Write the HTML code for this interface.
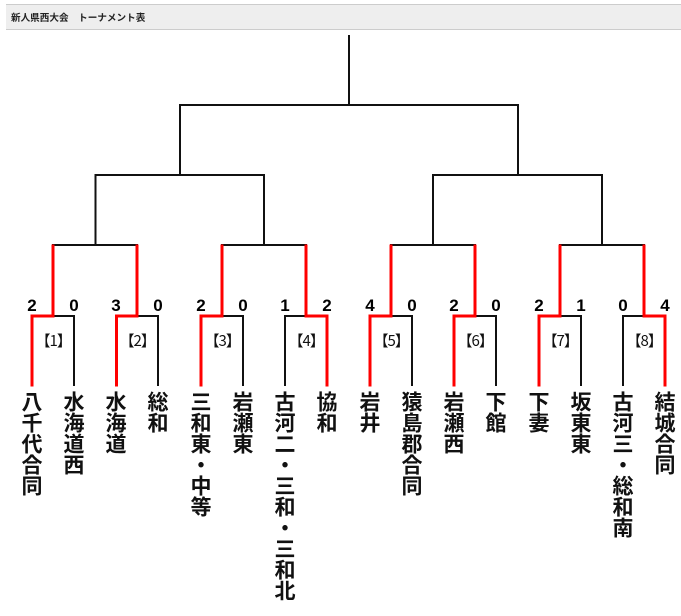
<!DOCTYPE html>
<html lang="ja"><head><meta charset="utf-8"><style>
html,body{margin:0;padding:0;background:#fff}
body{width:681px;height:616px;overflow:hidden;position:relative;font-family:"Liberation Sans","Noto Sans CJK JP",sans-serif}
#h{position:absolute;left:6px;top:4px;width:675px;height:24px;background:#eee;border-top:1px solid #ccc;border-bottom:1px solid #ccc;font-size:9.6px;line-height:24px;color:#222;text-indent:5px;white-space:pre;font-weight:700;font-family:"Noto Sans CJK JP",sans-serif}
svg{position:absolute;left:0;top:0}
.n{position:absolute;top:391px;width:22px;writing-mode:vertical-rl;font-size:21px;line-height:22px;font-weight:700;color:#111;white-space:nowrap;font-family:"Noto Sans CJK JP",sans-serif}
.s{position:absolute;top:296px;width:20px;text-align:center;font-size:17px;line-height:20px;font-weight:700;color:#000;font-family:"Liberation Sans",sans-serif}
.l{position:absolute;top:331px;width:44px;margin-left:-.5px;text-align:left;letter-spacing:-1px;font-size:15px;line-height:20px;color:#111;font-family:"Noto Sans CJK JP",sans-serif;white-space:nowrap}
</style></head><body>
<div id="h">新人県西大会　トーナメント表</div>
<svg width="681" height="616" fill="none" stroke-linecap="square">
<g stroke="#111" stroke-width="2">
<path d="M349 36V105M180 175V105H518V175M95.500 245V175H264V245M433 245V175H602V245"/>
<path d="M53 245H137M222 245H306M391 245H475M560 245H644"/>
</g>
<g stroke="#111" stroke-width="2">
<path d="M53 316H74V385M137 316H158V385M222 316H243V385M306 316H285V385M391 316H412V385M475 316H496V385M560 316H581V385M644 316H623V385"/>
</g>
<g stroke="#f00" stroke-width="3">
<path d="M53 246V316H32V385M137 246V316H116.500V385M222 246V316H201V385M306 246V316H327V385M391 246V316H370V385M475 246V316H454V385M560 246V316H539V385M644 246V316H665V385"/>
</g>
</svg>
<div class="s" style="left:22px">2</div><div class="s" style="left:64px">0</div>
<div class="s" style="left:106px">3</div><div class="s" style="left:148px">0</div>
<div class="s" style="left:191px">2</div><div class="s" style="left:233px">0</div>
<div class="s" style="left:275px">1</div><div class="s" style="left:317px">2</div>
<div class="s" style="left:360px">4</div><div class="s" style="left:402px">0</div>
<div class="s" style="left:444px">2</div><div class="s" style="left:486px">0</div>
<div class="s" style="left:529px">2</div><div class="s" style="left:571px">1</div>
<div class="s" style="left:613px">0</div><div class="s" style="left:655px">4</div>
<div class="l" style="left:36px">【1】</div><div class="l" style="left:120px">【2】</div>
<div class="l" style="left:205px">【3】</div><div class="l" style="left:289px">【4】</div>
<div class="l" style="left:374px">【5】</div><div class="l" style="left:458px">【6】</div>
<div class="l" style="left:543px">【7】</div><div class="l" style="left:627px">【8】</div>
<div class="n" style="left:21px">八千代合同</div>
<div class="n" style="left:63px">水海道西</div>
<div class="n" style="left:105px">水海道</div>
<div class="n" style="left:147px">総和</div>
<div class="n" style="left:190px">三和東・中等</div>
<div class="n" style="left:232px">岩瀬東</div>
<div class="n" style="left:274px">古河二・三和・三和北</div>
<div class="n" style="left:316px">協和</div>
<div class="n" style="left:359px">岩井</div>
<div class="n" style="left:401px">猿島郡合同</div>
<div class="n" style="left:443px">岩瀬西</div>
<div class="n" style="left:485px">下館</div>
<div class="n" style="left:528px">下妻</div>
<div class="n" style="left:570px">坂東東</div>
<div class="n" style="left:612px">古河三・総和南</div>
<div class="n" style="left:654px">結城合同</div>
</body></html>
